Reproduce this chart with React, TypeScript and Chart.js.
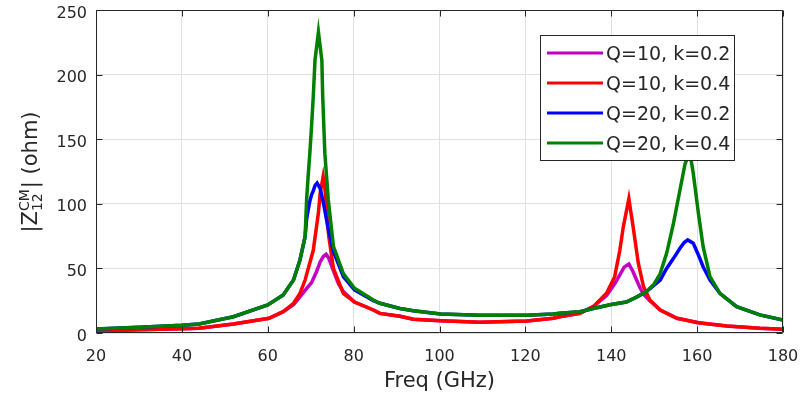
import React, { useEffect, useRef } from "react";
import { Chart, registerables } from "chart.js";

Chart.register(...registerables);

// ---------- data ----------
const seriesLabels = ["Q=10, k=0.2", "Q=10, k=0.4", "Q=20, k=0.2", "Q=20, k=0.4"];
const seriesColors = ["#c400c4", "#ff0000", "#0000ff", "#008000"];

const freqQ10k02 = [20, 30, 40, 44, 52, 60.3, 63.6, 66, 67.5, 68.7, 70.2, 71.3, 72.2, 73, 73.6, 74.2, 75.3, 76.5, 77.6, 80.2, 84.6, 86.1, 90.8, 93.9, 100.3, 109.4, 120.3, 126.5, 128, 132.7, 135.8, 138.9, 140.8, 142, 143, 144.1, 145, 145.9, 146.7, 147.5, 149, 151.4, 155.3, 160.3, 166.9, 174.6, 180];
const zQ10k02 = [1.5, 2.5, 3.2, 3.6, 7, 11.4, 16.5, 22, 28, 33, 39, 47, 55, 59.5, 61, 58, 48, 38, 32, 24, 17.8, 15.2, 13, 10.6, 9.5, 8.3, 9.3, 11.4, 12.6, 15.2, 20.4, 29, 38, 45, 51, 53.4, 48, 41, 35, 30, 25, 17.8, 11.4, 8, 5.4, 3.6, 2.9];

const freqQ10k04 = [20, 30, 40, 44, 52, 60.3, 63.6, 66, 67.5, 68.7, 70.6, 71.8, 72.2, 72.9, 73.3, 73.7, 74.2, 75.3, 77.6, 80.2, 84.6, 86.1, 90.8, 93.9, 100.3, 109.4, 120.3, 126.5, 128, 132.7, 135.8, 138.9, 140.8, 142, 142.8, 144.1, 145.1, 146.3, 147.5, 149, 151.4, 155.3, 160.3, 166.9, 174.6, 180];
const zQ10k04 = [1.5, 2.5, 3.2, 3.6, 7, 11.4, 16.5, 23, 30.7, 41, 64, 93, 108, 121, 112, 95, 75, 50, 30.7, 24, 17.8, 15.2, 13, 10.6, 9.5, 8.3, 9.3, 11.4, 12.6, 15.2, 20.4, 30.7, 43.6, 64, 82, 104, 82, 54, 36, 25.5, 17.8, 11.4, 8, 5.4, 3.6, 2.9];

const freqQ20k02 = [20, 30, 40, 44, 52, 60, 63.6, 66, 67.5, 68.7, 69.05, 69.4, 69.8, 70.2, 70.6, 71, 71.5, 72.2, 73, 74, 75.3, 77.6, 80.2, 84.6, 86.1, 90.8, 93.9, 100.3, 109.4, 120.3, 126.5, 128, 132.7, 135.8, 140, 143.5, 146, 148.2, 150, 151.4, 152.9, 154.5, 156, 157, 157.8, 159.1, 160.3, 161.4, 163, 165.3, 169.2, 174.6, 180];
const zQ20k02 = [3, 4.5, 6, 7, 12.6, 21.7, 29.4, 41, 56.5, 74.5, 88, 95, 102, 107, 110, 114, 116, 112, 100, 82, 63, 43.6, 33.4, 25, 23, 19, 17.3, 14.7, 13.7, 13.7, 14.7, 15.2, 16.5, 19, 22, 24, 28, 32, 37, 41, 50, 57.8, 65.6, 70, 72, 69.4, 60.4, 51.3, 41, 30.7, 20.4, 14, 10];

const freqQ20k04 = [20, 30, 40, 44, 52, 60, 63.6, 66, 67.5, 68.7, 69.05, 69.4, 69.8, 70.2, 70.6, 71, 71.8, 72.6, 72.8, 73.3, 73.7, 74.1, 75.3, 77.6, 80.2, 84.6, 86.1, 90.8, 93.9, 100.3, 109.4, 120.3, 126.5, 128, 132.7, 135.8, 140, 143.5, 146, 148.2, 150, 151.4, 152.9, 154.5, 156, 157.2, 158.3, 159.1, 160.3, 161.4, 163, 165.3, 169.2, 174.6, 180];
const zQ20k04 = [3, 4.5, 6, 7, 12.6, 21.7, 29.4, 41, 56.5, 74.5, 103, 121, 139, 160, 183, 211, 233, 211, 183, 139, 121, 103, 67, 46, 34.6, 25.5, 23, 19, 17.3, 14.7, 13.7, 13.7, 14.7, 15.2, 16.5, 19, 22, 24, 28, 32, 38, 46, 61.7, 85, 110.7, 131, 140, 123.6, 92.6, 66.8, 43.6, 30.7, 20.4, 14, 10];

const xTickValues = [20, 40, 60, 80, 100, 120, 140, 160, 180];
const yTickValues = [0, 50, 100, 150, 200, 250];
const xTitle = "Freq (GHz)";

// ---------- styling ----------
const FONT = "'DejaVu Sans', 'Liberation Sans', sans-serif";
const TEXT = "#262626";
const GRID = "#e0e0e0";

const freqs = [freqQ10k02, freqQ10k04, freqQ20k02, freqQ20k04];
const vals = [zQ10k02, zQ10k04, zQ20k02, zQ20k04];

const overlayPlugin = {
  id: "matlabOverlay",
  afterDraw(chart: any) {
    const ctx: CanvasRenderingContext2D = chart.ctx;
    const { left, right, top, bottom } = chart.chartArea;
    const xs = chart.scales.x;
    const ys = chart.scales.y;
    const L = Math.round(left) + 0.5;
    const R = Math.round(right) - 0.5;
    const T = Math.round(top) + 0.5;
    const B = Math.round(bottom) - 0.5;
    ctx.save();
    // axes box
    ctx.strokeStyle = TEXT;
    ctx.lineWidth = 1;
    ctx.beginPath();
    ctx.rect(L, T, R - L, B - T);
    ctx.stroke();
    // inward ticks
    const tl = 6;
    ctx.beginPath();
    xTickValues.forEach((v) => {
      const px = Math.round(xs.getPixelForValue(v)) + 0.5;
      ctx.moveTo(px, B);
      ctx.lineTo(px, B - tl);
      ctx.moveTo(px, T);
      ctx.lineTo(px, T + tl);
    });
    yTickValues.forEach((v) => {
      const py = Math.round(ys.getPixelForValue(v)) + 0.5;
      ctx.moveTo(L, py);
      ctx.lineTo(L + tl, py);
      ctx.moveTo(R, py);
      ctx.lineTo(R - tl, py);
    });
    ctx.stroke();

    // tick labels
    ctx.fillStyle = TEXT;
    ctx.font = `16px ${FONT}`;
    ctx.textBaseline = "alphabetic";
    ctx.textAlign = "center";
    xTickValues.forEach((v) => {
      ctx.fillText(String(v), xs.getPixelForValue(v), bottom + 28);
    });
    ctx.textAlign = "right";
    yTickValues.forEach((v) => {
      ctx.fillText(String(v), left - 9, ys.getPixelForValue(v) + 7.5);
    });

    // x title
    ctx.font = `21px ${FONT}`;
    ctx.textAlign = "center";
    ctx.fillText(xTitle, (left + right) / 2, 387);

    // y title with super/subscript
    ctx.save();
    ctx.translate(37, 172);
    ctx.rotate(-Math.PI / 2);
    ctx.textAlign = "left";
    const big = `21px ${FONT}`;
    const small = `14px ${FONT}`;
    ctx.font = big;
    const w1 = ctx.measureText("|Z").width;
    const w3 = ctx.measureText("| (ohm)").width;
    ctx.font = small;
    const w2 = Math.max(ctx.measureText("CM").width, ctx.measureText("12").width) + 1;
    let x = -(w1 + w2 + w3) / 2;
    ctx.font = big;
    ctx.fillText("|Z", x, 0);
    x += w1;
    ctx.font = small;
    ctx.fillText("CM", x, -8);
    ctx.fillText("12", x, 5);
    x += w2;
    ctx.font = big;
    ctx.fillText("| (ohm)", x, 0);
    ctx.restore();

    // legend
    const bx = 540.5, by = 35.5, bw = 194, bh = 125;
    ctx.fillStyle = "#ffffff";
    ctx.fillRect(bx, by, bw, bh);
    ctx.strokeStyle = TEXT;
    ctx.lineWidth = 1;
    ctx.strokeRect(bx, by, bw, bh);
    ctx.font = `19px ${FONT}`;
    ctx.textAlign = "left";
    chart.data.datasets.forEach((ds: any, i: number) => {
      const cy = 53 + i * 30;
      ctx.strokeStyle = ds.borderColor;
      ctx.lineWidth = 3;
      ctx.beginPath();
      ctx.moveTo(547, cy);
      ctx.lineTo(603, cy);
      ctx.stroke();
      ctx.fillStyle = TEXT;
      ctx.fillText(ds.label, 606, cy + 7);
    });
    ctx.restore();
  },
};

export default function App() {
  const ref = useRef<HTMLCanvasElement>(null);
  useEffect(() => {
    const datasets = seriesLabels.map((label, i) => ({
      label,
      data: freqs[i].map((f, j) => ({ x: f, y: vals[i][j] })),
      borderColor: seriesColors[i],
      backgroundColor: seriesColors[i],
      borderWidth: 3.5,
      pointRadius: 0,
      fill: false,
      tension: 0,
      order: 4 - i,
    }));
    const chart = new Chart(ref.current as HTMLCanvasElement, {
      type: "line",
      data: { datasets },
      options: {
        animation: false,
        responsive: false,
        layout: { padding: { left: 96, right: 17, top: 10, bottom: 67 } },
        plugins: { legend: { display: false }, tooltip: { enabled: false } },
        scales: {
          x: {
            type: "linear",
            min: 20,
            max: 180,
            afterBuildTicks: (s: any) => {
              s.ticks = xTickValues.map((v) => ({ value: v }));
            },
            afterFit: (s: any) => {
              s.height = 0;
              s.paddingLeft = 0;
              s.paddingRight = 0;
            },
            ticks: { display: false },
            grid: { color: GRID, drawTicks: false, lineWidth: 1 },
            border: { display: false },
          },
          y: {
            type: "linear",
            min: 0,
            max: 250,
            afterBuildTicks: (s: any) => {
              s.ticks = yTickValues.map((v) => ({ value: v }));
            },
            afterFit: (s: any) => {
              s.width = 0;
              s.paddingTop = 0;
              s.paddingBottom = 0;
            },
            ticks: { display: false },
            grid: { color: GRID, drawTicks: false, lineWidth: 1 },
            border: { display: false },
          },
        },
      } as any,
      plugins: [overlayPlugin],
    });
    return () => chart.destroy();
  }, []);
  return (
    <div style={{ position: "fixed", left: 0, top: 0, width: 800, height: 400, background: "#fff" }}>
      <canvas ref={ref} width={800} height={400} style={{ display: "block", width: 800, height: 400 }} />
    </div>
  );
}
